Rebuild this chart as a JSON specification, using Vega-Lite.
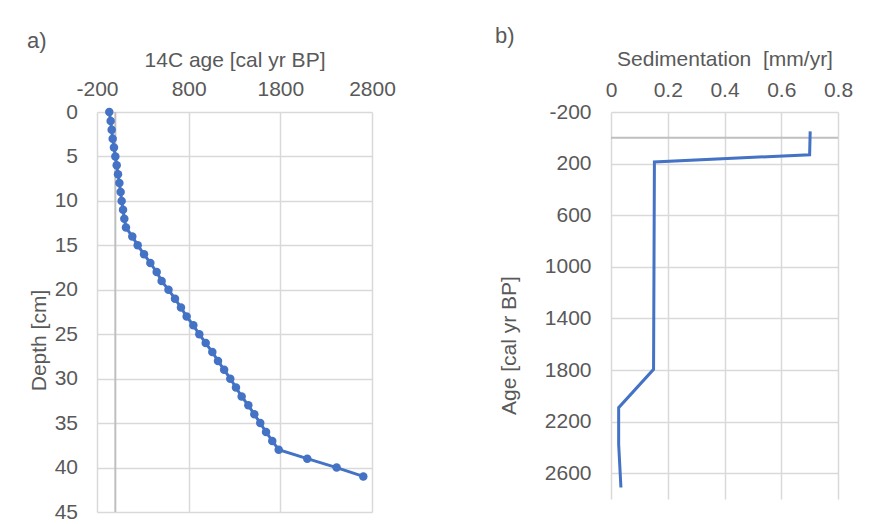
{
  "$schema": "https://vega.github.io/schema/vega-lite/v6.json",
  "autosize": "none",
  "padding": {"left": 97, "top": 112, "right": 772, "bottom": 412},
  "background": "white",
  "bounds": "flush",
  "spacing": 239,
  "config": {
    "font": "Liberation Sans",
    "view": {"stroke": null},
    "axis": {
      "labelFont": "Liberation Sans", "labelFontSize": 21, "labelColor": "#595959",
      "titleFont": "Liberation Sans", "titleFontSize": 21, "titleFontWeight": "normal", "titleColor": "#595959",
      "gridColor": "#d9d9d9", "gridWidth": 1.5, "domain": false, "ticks": false,
      "labelFlush": false, "labelOverlap": false, "labelBound": false
    },
    "title": {"font": "Liberation Sans", "fontSize": 22, "fontWeight": "normal", "color": "#595959", "anchor": "start", "frame": "group"}
  },
  "datasets": {
    "core": [
      {"depth": 0, "age": -66}, {"depth": 1, "age": -51}, {"depth": 2, "age": -40}, {"depth": 3, "age": -29},
      {"depth": 4, "age": -15}, {"depth": 5, "age": 0}, {"depth": 6, "age": 15}, {"depth": 7, "age": 29},
      {"depth": 8, "age": 44}, {"depth": 9, "age": 58}, {"depth": 10, "age": 69}, {"depth": 11, "age": 84},
      {"depth": 12, "age": 98}, {"depth": 13, "age": 116}, {"depth": 14, "age": 185}, {"depth": 15, "age": 244},
      {"depth": 16, "age": 313}, {"depth": 17, "age": 382}, {"depth": 18, "age": 451}, {"depth": 19, "age": 505},
      {"depth": 20, "age": 580}, {"depth": 21, "age": 651}, {"depth": 22, "age": 716}, {"depth": 23, "age": 778},
      {"depth": 24, "age": 851}, {"depth": 25, "age": 916}, {"depth": 26, "age": 986}, {"depth": 27, "age": 1058},
      {"depth": 28, "age": 1120}, {"depth": 29, "age": 1187}, {"depth": 30, "age": 1254}, {"depth": 31, "age": 1316},
      {"depth": 32, "age": 1378}, {"depth": 33, "age": 1451}, {"depth": 34, "age": 1516}, {"depth": 35, "age": 1581},
      {"depth": 36, "age": 1644}, {"depth": 37, "age": 1712}, {"depth": 38, "age": 1782}, {"depth": 39, "age": 2094},
      {"depth": 40, "age": 2414}, {"depth": 41, "age": 2705}
    ],
    "sed": [
      {"rate": 0.702, "age": -50},
      {"rate": 0.700, "age": 131},
      {"rate": 0.153, "age": 187},
      {"rate": 0.150, "age": 1795},
      {"rate": 0.027, "age": 2092},
      {"rate": 0.027, "age": 2376},
      {"rate": 0.035, "age": 2711}
    ],
    "origin": [{"zero": 0}]
  },
  "hconcat": [
    {
      "width": 275,
      "height": 400,
      "title": {"text": "a)", "dx": -70, "dy": 8},
      "layer": [
        {
          "data": {"name": "origin"},
          "mark": {"type": "rule", "color": "#bfbfbf", "strokeWidth": 2},
          "encoding": {"x": {"field": "zero", "type": "quantitative"}}
        },
        {
          "data": {"name": "core"},
          "mark": {"type": "line", "color": "#4472C4", "strokeWidth": 3},
          "encoding": {
            "x": {
              "field": "age", "type": "quantitative",
              "scale": {"domain": [-200, 2800], "nice": false, "zero": false},
              "axis": {
                "orient": "top", "values": [-200, 800, 1800, 2800], "title": "14C age [cal yr BP]",
                "labelExpr": "datum.value + ''", "labelPadding": 16.5, "labelBaseline": "alphabetic",
                "titleY": -46, "titleBaseline": "alphabetic"
              }
            },
            "y": {
              "field": "depth", "type": "quantitative",
              "scale": {"domain": [0, 45], "reverse": true, "nice": false},
              "axis": {
                "values": [0, 5, 10, 15, 20, 25, 30, 35, 40, 45], "title": "Depth [cm]",
                "labelExpr": "datum.value + ''",
                "labelPadding": 19.5, "titleX": -52, "titleY": 228, "titleBaseline": "alphabetic", "titleAngle": 270
              }
            },
            "order": {"field": "depth", "type": "quantitative"}
          }
        },
        {
          "data": {"name": "core"},
          "mark": {"type": "circle", "color": "#4472C4", "size": 72, "opacity": 1},
          "encoding": {
            "x": {"field": "age", "type": "quantitative"},
            "y": {"field": "depth", "type": "quantitative"}
          }
        }
      ]
    },
    {
      "width": 227,
      "height": 387,
      "title": {"text": "b)", "dx": -116, "dy": 3},
      "layer": [
        {
          "data": {"name": "origin"},
          "mark": {"type": "rule", "color": "#bfbfbf", "strokeWidth": 2},
          "encoding": {"y": {"field": "zero", "type": "quantitative"}}
        },
        {
          "data": {"name": "sed"},
          "mark": {"type": "line", "color": "#4472C4", "strokeWidth": 3},
          "encoding": {
            "x": {
              "field": "rate", "type": "quantitative",
              "scale": {"domain": [0, 0.8], "nice": false},
              "axis": {
                "orient": "top", "values": [0, 0.2, 0.4, 0.6, 0.8], "title": "Sedimentation\u00a0 [mm/yr]",
                "labelExpr": "datum.value + ''", "labelPadding": 15.3, "labelBaseline": "alphabetic",
                "titleY": -46.3, "titleBaseline": "alphabetic"
              }
            },
            "y": {
              "field": "age", "type": "quantitative",
              "scale": {"domain": [-200, 2800], "reverse": true, "nice": false, "zero": false},
              "axis": {
                "values": [-200, 200, 600, 1000, 1400, 1800, 2200, 2600], "title": "Age [cal yr BP]",
                "labelExpr": "datum.value + ''",
                "labelPadding": 20, "titleX": -96, "titleY": 233, "titleBaseline": "alphabetic", "titleAngle": 270
              }
            },
            "order": {"field": "age", "type": "quantitative"}
          }
        }
      ]
    }
  ]
}
